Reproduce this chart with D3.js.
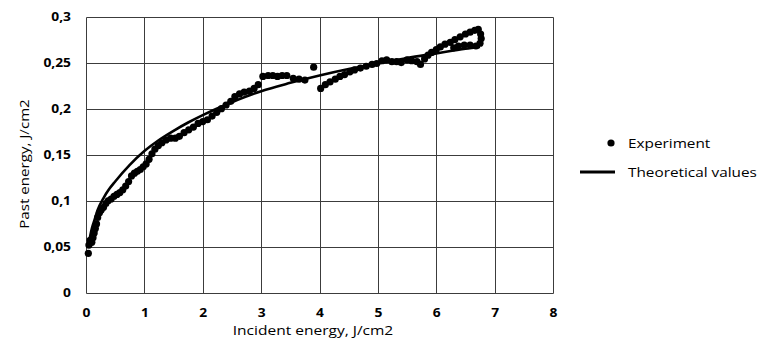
<!DOCTYPE html>
<html><head><meta charset="utf-8">
<script src="https://cdn.jsdelivr.net/npm/d3@7"></script>
<style>
html,body{margin:0;padding:0;background:#fff;}
svg{display:block;font-family:"Open Sans",sans-serif;}
</style></head>
<body>
<svg id="chart" width="768" height="345"></svg>
<script>
// ---- data ----
const xTicks = [0,1,2,3,4,5,6,7,8];
const yTicks = [0,0.05,0.1,0.15,0.2,0.25,0.3];
const yTickLabels = ["0","0,05","0,1","0,15","0,2","0,25","0,3"];

const expX = [0.04,0.05,0.07,0.1,0.12,0.14,0.16,0.18,0.2,0.23,0.26,0.3,0.34,0.38,0.43,0.48,0.53,0.58,0.63,0.68,0.73,0.78,0.83,0.88,0.93,0.98,1.03,1.08,1.13,1.18,1.24,1.3,1.37,1.45,1.53,1.6,1.68,1.76,1.84,1.92,2.0,2.08,2.16,2.24,2.32,2.4,2.48,2.55,2.63,2.71,2.8,2.88,2.95,3.03,3.12,3.2,3.28,3.36,3.44,3.55,3.65,3.75,3.9,4.02,4.1,4.18,4.27,4.35,4.43,4.52,4.6,4.7,4.8,4.9,4.98,5.07,5.15,5.24,5.32,5.4,5.5,5.58,5.67,5.73,5.8,5.86,5.92,6.0,6.07,6.15,6.24,6.32,6.41,6.5,6.58,6.66,6.72,6.76,6.77,6.75,6.68,6.58,6.48,6.38,6.3];
const expY = [0.043,0.052,0.057,0.055,0.06,0.065,0.07,0.075,0.082,0.087,0.09,0.093,0.097,0.1,0.102,0.105,0.107,0.109,0.112,0.116,0.121,0.127,0.13,0.132,0.134,0.137,0.14,0.145,0.151,0.156,0.16,0.163,0.166,0.168,0.168,0.17,0.174,0.177,0.18,0.184,0.186,0.188,0.192,0.196,0.2,0.204,0.208,0.213,0.216,0.218,0.219,0.222,0.226,0.235,0.236,0.236,0.235,0.236,0.236,0.233,0.232,0.231,0.245,0.222,0.226,0.229,0.232,0.235,0.237,0.24,0.242,0.244,0.246,0.248,0.249,0.252,0.253,0.251,0.251,0.25,0.253,0.252,0.251,0.248,0.254,0.258,0.261,0.264,0.267,0.27,0.272,0.275,0.278,0.281,0.283,0.285,0.286,0.281,0.276,0.271,0.268,0.269,0.269,0.268,0.266];

const theoX = [0.05,0.1,0.15,0.2,0.3,0.4,0.5,0.75,1,1.25,1.5,1.75,2,2.5,3,3.5,4,4.5,5,5.5,6,6.5,6.75];
const theoY = [0.055,0.07,0.08,0.09,0.103,0.113,0.121,0.139,0.154,0.166,0.176,0.185,0.193,0.207,0.219,0.228,0.236,0.243,0.249,0.255,0.260,0.265,0.267];

const legendLabels = ["Experiment","Theoretical values"];
const xTitle = "Incident energy, J/cm2";
const yTitle = "Past energy, J/cm2";

// ---- drawing ----
const svg = d3.select("#chart");
const x = d3.scaleLinear().domain([0,8]).range([86,553]);
const y = d3.scaleLinear().domain([0,0.3]).range([293,16.5]);
const gridColor = "#3c3c3c";
const crisp = v => Math.round(v)+0.5;

const grid = svg.append("g");
grid.selectAll("line.v").data(xTicks).join("line")
  .attr("x1",d=>crisp(x(d))).attr("x2",d=>crisp(x(d)))
  .attr("y1",crisp(y(0.3))).attr("y2",crisp(y(0)))
  .attr("stroke",gridColor).attr("stroke-width",1);
grid.selectAll("line.h").data(yTicks).join("line")
  .attr("x1",crisp(x(0))).attr("x2",crisp(x(8)))
  .attr("y1",d=>crisp(y(d))).attr("y2",d=>crisp(y(d)))
  .attr("stroke",gridColor).attr("stroke-width",1);

// tick labels via d3 axes
const xAxis = d3.axisBottom(x).tickValues(xTicks).tickSize(0).tickPadding(0).tickFormat(d3.format("d"));
const gx = svg.append("g").attr("transform",`translate(0,${y(0)+20})`).call(xAxis);
gx.select(".domain").remove();
gx.selectAll("text").attr("dy","0.35em").attr("y",0).attr("transform","scale(1.2,1)")
  .style("font-family","'Open Sans',sans-serif").style("font-size","11.5px").style("font-weight","700").attr("fill","#000");

const yAxis = d3.axisLeft(y).tickValues(yTicks).tickSize(0).tickPadding(0)
  .tickFormat((d,i)=>yTickLabels[i]);
const gy = svg.append("g").attr("transform",`translate(71,0)`).call(yAxis);
gy.select(".domain").remove();
gy.selectAll("text").attr("x",0).attr("transform","scale(1.2,1)")
  .style("font-family","'Open Sans',sans-serif").style("font-size","11.5px").style("font-weight","700").attr("fill","#000");

// theoretical line
const lineGen = d3.line().x(d=>x(d[0])).y(d=>y(d[1])).curve(d3.curveMonotoneX);
svg.append("path").datum(theoX.map((v,i)=>[v,theoY[i]]))
  .attr("d",lineGen).attr("fill","none").attr("stroke","#000").attr("stroke-width",2.6);

// experiment points
svg.append("g").selectAll("circle").data(expX.map((v,i)=>[v,expY[i]])).join("circle")
  .attr("cx",d=>x(d[0])).attr("cy",d=>y(d[1])).attr("r",3.6).attr("fill","#000");

// axis titles
svg.append("text").attr("transform","translate(313,335) scale(1.15,1)").attr("text-anchor","middle")
  .style("font-size","13.5px").attr("fill","#000").text(xTitle);
svg.append("text").attr("transform","translate(29,164) rotate(-90) scale(1.12,1)").attr("text-anchor","middle")
  .style("font-size","13.5px").attr("fill","#000").text(yTitle);

// legend
const lg = svg.append("g");
lg.append("circle").attr("cx",611).attr("cy",143).attr("r",3.6).attr("fill","#000");
lg.append("text").attr("transform","translate(628,143) scale(1.18,1)").attr("dy","0.35em").style("font-size","13px").attr("fill","#000").text(legendLabels[0]);
lg.append("line").attr("x1",580).attr("x2",615).attr("y1",172).attr("y2",172).attr("stroke","#000").attr("stroke-width",3);
lg.append("text").attr("transform","translate(628,172) scale(1.18,1)").attr("dy","0.35em").style("font-size","13px").attr("fill","#000").text(legendLabels[1]);
</script>
</body></html>
